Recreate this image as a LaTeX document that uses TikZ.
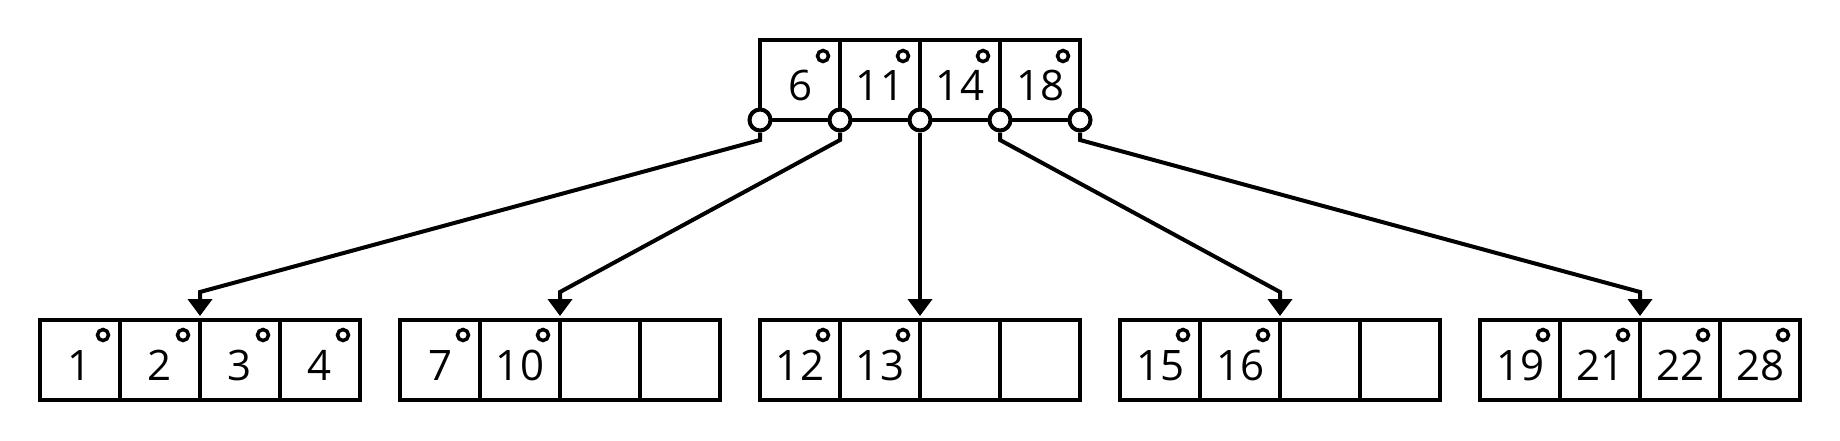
\documentclass[tikz,border=0pt]{standalone}
\usepackage{fontspec}
\setmainfont{Open Sans}
\usetikzlibrary{arrows.meta,calc}
\begin{document}
\begin{tikzpicture}[x=0.5pt,y=-0.5pt,
  cell/.style={draw,line width=2pt,minimum width=40pt,minimum height=40pt,inner sep=0pt,outer sep=0pt,text height=20pt,text depth=0pt,font=\fontsize{21}{25}\selectfont},
  dot/.style={circle,draw,line width=1.75pt,minimum size=5.5pt,inner sep=0pt},
  port/.style={circle,draw,fill=white,line width=2pt,minimum size=10.5pt,inner sep=0pt},
  link/.style={line width=2pt,-{Triangle[width=12pt,length=8.5pt]},shorten >=2pt}]
\useasboundingbox (0,0) rectangle (1840,440);
% root
\foreach \v [count=\j] in {6,11,14,18}
  \node[cell,anchor=north west] (r\j) at ({760+80*(\j-1)},40) {\v};
\foreach \j in {1,...,4}
  \node[dot] (rd\j) at ([shift={(-17,16)}]r\j.north east) {};
% leaves
\foreach \v [count=\j] in {1,2,3,4}
  \node[cell,anchor=north west] (a\j) at ({40+80*(\j-1)},320) {\v};
\foreach \v [count=\j] in {7,10,{},{}}
  \node[cell,anchor=north west] (b\j) at ({400+80*(\j-1)},320) {\v};
\foreach \v [count=\j] in {12,13,{},{}}
  \node[cell,anchor=north west] (c\j) at ({760+80*(\j-1)},320) {\v};
\foreach \v [count=\j] in {15,16,{},{}}
  \node[cell,anchor=north west] (d\j) at ({1120+80*(\j-1)},320) {\v};
\foreach \v [count=\j] in {19,21,22,28}
  \node[cell,anchor=north west] (e\j) at ({1480+80*(\j-1)},320) {\v};
\foreach \j in {1,...,4} {
  \node[dot] (ad\j) at ([shift={(-17,15)}]a\j.north east) {};
  \node[dot] (ed\j) at ([shift={(-17,15)}]e\j.north east) {};
}
\foreach \j in {1,2} {
  \node[dot] (bd\j) at ([shift={(-17,15)}]b\j.north east) {};
  \node[dot] (cd\j) at ([shift={(-17,15)}]c\j.north east) {};
  \node[dot] (dd\j) at ([shift={(-17,15)}]d\j.north east) {};
}
% ports
\node[port] (p0) at (r1.south west) {};
\foreach \j in {1,...,4}
  \node[port] (p\j) at (r\j.south east) {};
% connectors
\draw[link] (p0.south) -- ($(p0)+(0,20)$) -- ($(a2.north east)+(0,-28)$) -- (a2.north east);
\draw[link] (p1.south) -- ($(p1)+(0,20)$) -- ($(b2.north east)+(0,-28)$) -- (b2.north east);
\draw[link] (p2.south) -- (c2.north east);
\draw[link] (p3.south) -- ($(p3)+(0,20)$) -- ($(d2.north east)+(0,-28)$) -- (d2.north east);
\draw[link] (p4.south) -- ($(p4)+(0,20)$) -- ($(e2.north east)+(0,-28)$) -- (e2.north east);
\end{tikzpicture}
\end{document}
